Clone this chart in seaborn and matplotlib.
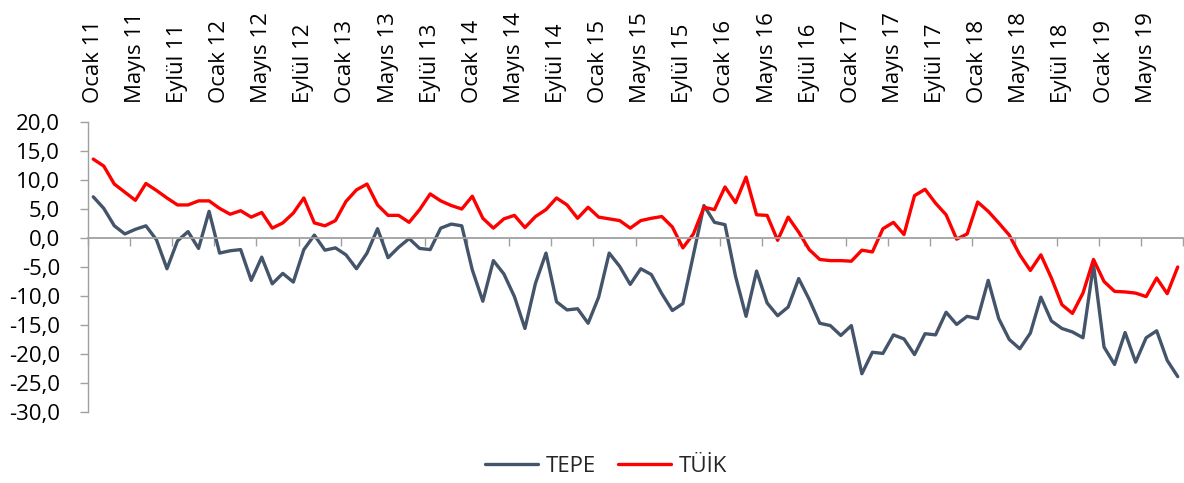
import numpy as np
import pandas as pd
import matplotlib
matplotlib.use("Agg")
import matplotlib.pyplot as plt
import seaborn as sns
from matplotlib.ticker import FuncFormatter, FixedLocator

# ---- data (monthly, Ocak 2011 - Ağustos 2019) ----
tepe = [7.1, 5.1, 2.1, 0.7, 1.5, 2.1, -0.3, -5.3, -0.5, 1.1, -1.8, 4.6,
        -2.6, -2.2, -2.0, -7.3, -3.3, -7.9, -6.1, -7.6, -2.0, 0.5, -2.1, -1.7,
        -2.9, -5.3, -2.6, 1.6, -3.4, -1.6, -0.1, -1.8, -2.0, 1.7, 2.4, 2.1,
        -5.5, -10.9, -3.9, -6.2, -10.1, -15.6, -7.8, -2.6, -11.0, -12.4, -12.2, -14.7,
        -10.2, -2.6, -4.9, -8.0, -5.3, -6.3, -9.6, -12.5, -11.3, -2.9, 5.6, 2.7,
        2.3, -6.6, -13.5, -5.7, -11.2, -13.4, -11.9, -7.0, -10.6, -14.7, -15.1, -16.8,
        -15.1, -23.4, -19.7, -19.9, -16.7, -17.4, -20.1, -16.5, -16.7, -12.8, -14.9, -13.5,
        -13.9, -7.3, -13.9, -17.5, -19.1, -16.4, -10.2, -14.3, -15.6, -16.2, -17.2, -4.6,
        -18.8, -21.8, -16.3, -21.4, -17.2, -16.0, -21.1, -23.9]
tuik = [13.6, 12.4, 9.3, 7.9, 6.5, 9.4, 8.2, 6.9, 5.7, 5.7, 6.4, 6.4,
        5.1, 4.1, 4.7, 3.6, 4.4, 1.7, 2.6, 4.3, 6.9, 2.6, 2.1, 3.0,
        6.3, 8.3, 9.3, 5.7, 3.9, 3.9, 2.7, 4.9, 7.6, 6.4, 5.6, 5.0,
        7.2, 3.4, 1.7, 3.3, 3.9, 1.8, 3.7, 4.9, 6.9, 5.7, 3.4, 5.3,
        3.6, 3.3, 3.0, 1.7, 3.0, 3.4, 3.7, 1.9, -1.7, 0.7, 5.3, 4.9,
        8.8, 6.1, 10.5, 4.0, 3.9, -0.4, 3.6, 1.0, -2.0, -3.7, -3.9, -3.9,
        -4.0, -2.1, -2.4, 1.6, 2.7, 0.6, 7.3, 8.4, 6.0, 4.0, -0.2, 0.7,
        6.2, 4.6, 2.6, 0.5, -2.9, -5.6, -2.9, -6.9, -11.5, -13.0, -9.5, -3.7,
        -7.5, -9.2, -9.3, -9.5, -10.1, -6.9, -9.6, -5.0]
series_names = ["TEPE", "TÜİK"]
tick_labels = ["Ocak 11", "Mayıs 11", "Eylül 11", "Ocak 12", "Mayıs 12", "Eylül 12",
               "Ocak 13", "Mayıs 13", "Eylül 13", "Ocak 14", "Mayıs 14", "Eylül 14",
               "Ocak 15", "Mayıs 15", "Eylül 15", "Ocak 16", "Mayıs 16", "Eylül 16",
               "Ocak 17", "Mayıs 17", "Eylül 17", "Ocak 18", "Mayıs 18", "Eylül 18",
               "Ocak 19", "Mayıs 19"]
colors = {"TEPE": "#44546A", "TÜİK": "#FF0000"}

n = len(tepe)
df = pd.DataFrame({
    "idx": np.concatenate([np.arange(n), np.arange(n)]),
    "value": tepe + tuik,
    "series": [series_names[0]] * n + [series_names[1]] * n,
})

sns.set_theme(style="white")
plt.rcParams["font.family"] = ["Open Sans", "DejaVu Sans"]

W, H = 1184, 483
fig = plt.figure(figsize=(W / 100, H / 100), dpi=100)
ax = fig.add_axes([88 / W, 71 / H, 1095 / W, 290 / H])

sns.lineplot(data=df, x="idx", y="value", hue="series", palette=colors,
             linewidth=2.4, ax=ax, legend=True,
             solid_joinstyle="round", solid_capstyle="round")

axis_col = "#A0A0A0"
fs = 16

ax.set_xlim(-0.5, n - 0.5)
ax.set_ylim(-30, 20)
ax.set_xlabel("")
ax.set_ylabel("")

for s in ["top", "right"]:
    ax.spines[s].set_visible(False)
ax.spines["left"].set_color(axis_col)
ax.spines["left"].set_linewidth(1.0)
ax.spines["bottom"].set_position(("data", 0))
ax.spines["bottom"].set_color(axis_col)
ax.spines["bottom"].set_linewidth(1.3)

ax.xaxis.set_major_locator(FixedLocator(np.arange(-0.5, n, 4)))
ax.tick_params(axis="x", bottom=True, direction="out", length=6, width=1.0,
               color=axis_col, labelbottom=False)

ax.set_yticks(np.arange(-30, 21, 5))
ax.yaxis.set_major_formatter(FuncFormatter(lambda v, _: f"{v:.1f}".replace(".", ",")))
ax.tick_params(axis="y", left=True, direction="out", length=6, width=1.0,
               color=axis_col, labelsize=fs, labelcolor="black", pad=14)

sec = ax.secondary_xaxis("top")
sec.set_xticks(np.arange(0, n, 4))
sec.set_xticklabels(tick_labels, rotation=90, fontsize=fs, color="black")
sec.tick_params(axis="x", length=0, pad=14)
sec.spines["top"].set_visible(False)

handles, labels = ax.get_legend_handles_labels()
ax.get_legend().remove()
fig.legend(handles, labels, loc="center", bbox_to_anchor=(606 / W, 1 - 466 / H),
           ncol=2, frameon=False, fontsize=fs, handlelength=2.4,
           handletextpad=0.35, columnspacing=1.0)

fig.savefig("out.png", dpi=100)
